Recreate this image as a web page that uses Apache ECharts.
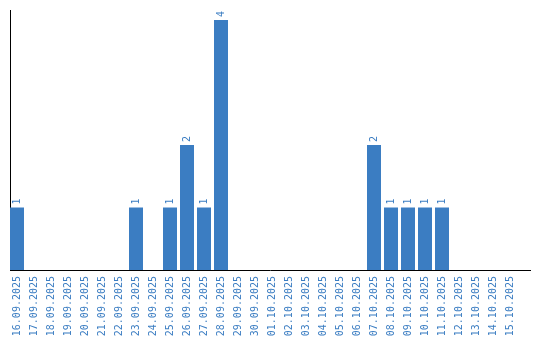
<!DOCTYPE html>
<html><head><meta charset="utf-8">
<script src="https://cdn.jsdelivr.net/npm/echarts@6/dist/echarts.min.js"></script>
<style>html,body{margin:0;padding:0;background:#fff}#c{width:540px;height:340px}</style>
</head><body><div id="c"></div>
<script>
const categories = ["16.09.2025","17.09.2025","18.09.2025","19.09.2025","20.09.2025","21.09.2025","22.09.2025","23.09.2025","24.09.2025","25.09.2025","26.09.2025","27.09.2025","28.09.2025","29.09.2025","30.09.2025","01.10.2025","02.10.2025","03.10.2025","04.10.2025","05.10.2025","06.10.2025","07.10.2025","08.10.2025","09.10.2025","10.10.2025","11.10.2025","12.10.2025","13.10.2025","14.10.2025","15.10.2025"];
const values = [1,0,0,0,0,0,0,1,0,1,2,1,4,0,0,0,0,0,0,0,0,2,1,1,1,1,0,0,0,0];
const blue = '#3b7dc2';
const chart = echarts.init(document.getElementById('c'));
chart.setOption({
  animation:false,
  grid:{left:8.5, top:10, width:510, height:260, containLabel:false},
  xAxis:{type:'category', data:categories, boundaryGap:true,
    axisLine:{show:false}, axisTick:{show:false},
    axisLabel:{rotate:90, interval:0, color:blue, fontFamily:'DejaVu Sans Mono', fontSize:10, margin:6}},
  yAxis:{type:'value', min:0, max:4.16, splitLine:{show:false}, axisTick:{show:false}, axisLabel:{show:false},
    axisLine:{show:false}},
  graphic:[
    {type:'line', shape:{x1:10.5,y1:10,x2:10.5,y2:270}, style:{stroke:'#000',lineWidth:1}, silent:true},
    {type:'line', shape:{x1:10,y1:270.5,x2:531,y2:270.5}, style:{stroke:'#000',lineWidth:1}, silent:true, z:10}
  ],
  series:[{type:'bar', data:values.map(v=>v===0?{value:0,label:{show:false}}:v), barWidth:14,
    itemStyle:{color:blue},
    label:{show:true, position:'top', rotate:90, align:'left', verticalAlign:'middle', distance:3,
      color:blue, fontFamily:'DejaVu Sans Mono', fontSize:10}}]
});
</script></body></html>
